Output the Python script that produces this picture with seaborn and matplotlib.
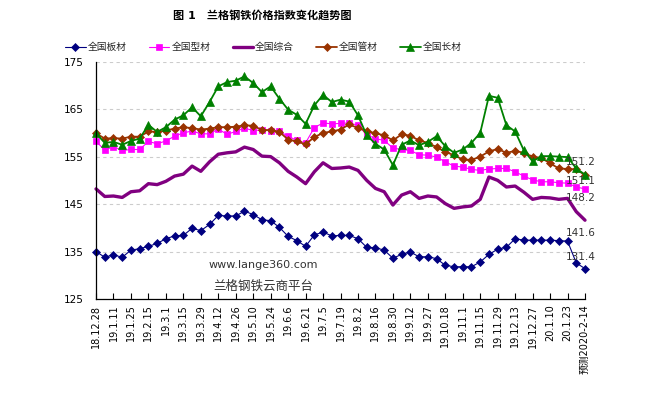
"""
兰格钢铁价格指数变化趋势图（周度，2018.12.28 ~ 预测 2020-2-14）。
五条指数线：板材 / 型材 / 综合 / 管材 / 长材，末端标注最新值。
"""

import matplotlib
matplotlib.use("Agg")
import matplotlib.pyplot as plt
import pandas as pd
import seaborn as sns

# x 轴每隔一周标一个日期
tick_labels = [
    "18.12.28", "19.1.11", "19.1.25", "19.2.15", "19.3.1", "19.3.15",
    "19.3.29", "19.4.12", "19.4.26", "19.5.10", "19.5.24", "19.6.6",
    "19.6.21", "19.7.5", "19.7.19", "19.8.2", "19.8.16", "19.8.30",
    "19.9.12", "19.9.27", "19.10.18", "19.11.1", "19.11.15", "19.11.29",
    "19.12.13", "19.12.27", "20.1.10", "20.1.23", "预测2020-2-14",
]

banc = [135.0, 133.8, 134.3, 133.8, 135.3, 135.6, 136.1, 136.7, 137.7, 138.3,
        138.4, 139.9, 139.4, 140.7, 142.6, 142.5, 142.5, 143.5, 142.8, 141.7,
        141.5, 140.1, 138.2, 137.3, 136.1, 138.5, 139.1, 138.3, 138.4, 138.4,
        137.7, 135.9, 135.8, 135.3, 133.6, 134.4, 134.9, 133.9, 133.9, 133.5,
        132.1, 131.8, 131.8, 131.8, 132.8, 134.4, 135.5, 135.9, 137.7, 137.4,
        137.4, 137.4, 137.4, 137.3, 137.2, 132.6, 131.4]

xingc = [158.2, 156.4, 157.1, 156.3, 156.5, 156.5, 158.2, 157.7, 158.3, 159.3,
         160.0, 160.4, 159.8, 159.8, 160.8, 159.7, 160.3, 161.0, 160.5, 160.6,
         160.5, 160.3, 159.3, 158.4, 157.9, 161.1, 162.1, 161.9, 162.0, 162.1,
         161.6, 159.6, 158.8, 158.4, 156.8, 156.5, 156.3, 155.4, 155.3, 154.9,
         153.9, 153.0, 152.8, 152.3, 152.1, 152.4, 152.5, 152.5, 151.8, 150.9,
         150.1, 149.7, 149.7, 149.5, 149.4, 148.6, 148.2]

zonghe = [148.2, 146.6, 146.7, 146.4, 147.6, 147.8, 149.3, 149.1, 149.8, 150.9,
          151.3, 153.0, 151.9, 153.9, 155.5, 155.8, 156.0, 157.0, 156.5, 155.1,
          155.0, 153.7, 151.9, 150.7, 149.3, 151.8, 153.7, 152.5, 152.6, 152.8,
          152.1, 150.0, 148.3, 147.6, 144.8, 146.9, 147.6, 146.2, 146.7, 146.5,
          145.1, 144.1, 144.4, 144.6, 146.0, 150.7, 150.0, 148.6, 148.8, 147.5,
          146.0, 146.4, 146.3, 146.0, 146.2, 143.4, 141.6]

guanc = [159.9, 158.8, 158.9, 158.8, 159.2, 159.2, 160.3, 160.2, 160.5, 160.9,
         161.2, 161.0, 160.7, 160.9, 161.2, 161.2, 161.3, 161.6, 161.5, 160.6,
         160.6, 160.2, 158.6, 158.2, 157.6, 159.1, 160.0, 160.3, 160.7, 161.8,
         161.0, 160.4, 159.9, 159.5, 158.4, 159.7, 159.4, 158.4, 157.9, 157.0,
         156.0, 155.3, 154.4, 154.3, 155.0, 156.1, 156.6, 155.8, 156.2, 155.8,
         155.0, 154.7, 153.6, 152.5, 152.4, 152.3, 151.1]

changc = [159.9, 157.9, 158.1, 157.5, 158.3, 158.8, 161.7, 160.2, 161.2, 162.8,
          163.7, 165.4, 163.5, 166.5, 169.8, 170.7, 171.0, 171.9, 170.5, 168.6,
          169.8, 167.2, 164.9, 163.8, 161.9, 165.8, 168.0, 166.5, 167.0, 166.6,
          163.7, 159.5, 157.7, 156.5, 153.2, 157.5, 158.4, 157.4, 158.1, 159.3,
          157.2, 155.8, 156.5, 157.9, 160.0, 167.8, 167.4, 161.6, 160.3, 156.3,
          154.0, 155.1, 155.1, 155.0, 154.9, 152.5, 151.2]

series_names = ["全国板材", "全国型材", "全国综合", "全国管材", "全国长材"]

# 颜色 / 线型，按 series_names 顺序
styles = [
    dict(color="#000080", marker="D", markersize=4.4, linewidth=0.8),
    dict(color="#FF00FF", marker="s", markersize=5, linewidth=0.8),
    dict(color="#800080", marker=None, markersize=0, linewidth=2.4),
    dict(color="#993300", marker="D", markersize=4.4, linewidth=1.3),
    dict(color="#008000", marker="^", markersize=5.5, linewidth=1.3),
]
# 末端数值标注的偏移（points）
label_offsets = [(-13.5, 8.6), (-13.5, -6.8), (-13.5, -9.1), (-13.5, -4.0), (-13.5, 9.4)]


def main():
    df = pd.DataFrame({
        "week": range(len(banc)),
        "全国板材": banc,
        "全国型材": xingc,
        "全国综合": zonghe,
        "全国管材": guanc,
        "全国长材": changc,
    })

    sns.set_theme(style="white")
    plt.rcParams["font.family"] = ["DejaVu Sans", "Noto Sans CJK SC"]
    plt.rcParams["axes.unicode_minus"] = False

    fig = plt.figure(figsize=(6.65, 3.99), dpi=100)
    ax = fig.add_axes([0.1444, 0.2506, 0.7353, 0.5948])

    for name, st in zip(series_names, styles):
        kw = dict(color=st["color"], linewidth=st["linewidth"], clip_on=False)
        if st["marker"]:
            kw.update(marker=st["marker"], markersize=st["markersize"],
                      markeredgecolor=st["color"], markerfacecolor=st["color"],
                      markeredgewidth=0.5)
        sns.lineplot(data=df, x="week", y=name, ax=ax, label=name, **kw)

    # 末端最新值
    last = len(banc) - 1
    for name, (dx, dy) in zip(series_names, label_offsets):
        val = df[name].iloc[-1]
        ax.annotate(f"{val:.1f}", xy=(last, val), xytext=(dx, dy),
                    textcoords="offset points", ha="left", va="center",
                    fontsize=7.5, color="#333333")

    ax.set_xlim(0, last)
    ax.set_ylim(125, 175)
    ax.set_yticks([125, 135, 145, 155, 165, 175])
    ax.set_xticks(range(0, last + 1, 2))
    ax.set_xticklabels(tick_labels, rotation=90)
    ax.set_xlabel("")
    ax.set_ylabel("")

    ax.yaxis.grid(True, linestyle=(0, (3, 3)), color="#CCCCCC", linewidth=0.8)
    ax.set_axisbelow(True)
    for side in ["top", "right"]:
        ax.spines[side].set_visible(False)
    for side in ["left", "bottom"]:
        ax.spines[side].set_color("black")
        ax.spines[side].set_linewidth(0.9)
    ax.tick_params(axis="x", direction="in", length=4, width=0.8, pad=4,
                   labelsize=7, colors="black", bottom=True)
    ax.tick_params(axis="y", length=0, pad=9, labelsize=7.5, colors="black")

    # 水印
    ax.text(0.3415, 0.143, "www.lange360.com", transform=ax.transAxes,
            ha="center", va="center", fontsize=8, color="#333333")
    ax.text(0.3415, 0.055, "兰格钢铁云商平台", transform=ax.transAxes,
            ha="center", va="center", fontsize=9, color="#333333")

    handles, labels = ax.get_legend_handles_labels()
    ax.get_legend().remove()
    fig.legend(handles, labels, loc="center", bbox_to_anchor=(0.396, 0.882),
               ncol=5, frameon=False, fontsize=7, handlelength=2.1,
               handletextpad=0.2, columnspacing=2.3)

    fig.text(0.394, 0.962, "图 1　兰格钢铁价格指数变化趋势图", ha="center",
             va="center", fontsize=8, fontweight="bold", color="black")

    fig.savefig("out.png", dpi=100)


if __name__ == "__main__":
    main()
